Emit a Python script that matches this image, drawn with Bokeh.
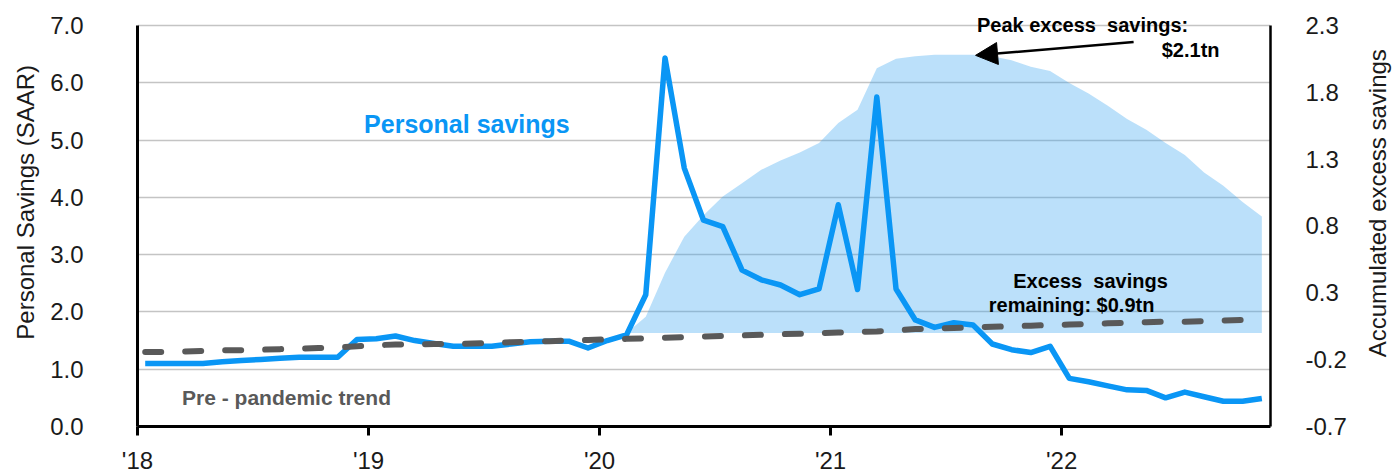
import math
from bokeh.plotting import figure
from bokeh.layouts import row
from bokeh.models import Range1d, LinearAxis, FixedTicker, Label, Arrow, NormalHead, PrintfTickFormatter
from bokeh.embed import file_html
from bokeh.resources import INLINE

# Monthly data, Jan 2018 (index 0) .. Nov 2022 (index 58)
month_index = list(range(59))
personal_savings = [
    1.10, 1.10, 1.10, 1.10, 1.13, 1.15, 1.17, 1.19, 1.21, 1.21, 1.21, 1.52,
    1.53, 1.58, 1.50, 1.45, 1.40, 1.40, 1.40, 1.44, 1.48, 1.49, 1.49, 1.37,
    1.50, 1.60, 2.30, 6.43, 4.51, 3.60, 3.49, 2.73, 2.56, 2.47, 2.30, 2.40,
    3.87, 2.39, 5.75, 2.40, 1.86, 1.73, 1.81, 1.77, 1.44, 1.34, 1.29, 1.40,
    0.84, 0.78, 0.71, 0.64, 0.63, 0.50, 0.60, 0.52, 0.44, 0.44, 0.49,
]
pre_pandemic_trend = [
    1.30, 1.30, 1.31, 1.32, 1.33, 1.33, 1.34, 1.35, 1.36, 1.37, 1.38, 1.40,
    1.42, 1.43, 1.43, 1.44, 1.44, 1.45, 1.46, 1.47, 1.48, 1.49, 1.50, 1.51,
    1.52, 1.53, 1.54, 1.55, 1.56, 1.57, 1.58, 1.59, 1.60, 1.61, 1.62, 1.63,
    1.64, 1.65, 1.66, 1.68, 1.70, 1.71, 1.72, 1.73, 1.74, 1.75, 1.76, 1.77,
    1.78, 1.79, 1.80, 1.81, 1.82, 1.83, 1.83, 1.84, 1.85, 1.86, 1.87,
]
# Accumulated excess savings (right axis), Feb 2020 (index 25) .. Nov 2022
excess_months = list(range(25, 59))
accumulated_excess = [
    0.00, 0.12, 0.45, 0.72, 0.88, 1.02, 1.12, 1.22, 1.29, 1.35, 1.42,
    1.57, 1.67, 1.98, 2.05, 2.07, 2.08, 2.08, 2.08, 2.07, 2.04, 1.99, 1.96,
    1.87, 1.79, 1.70, 1.60, 1.52, 1.42, 1.33, 1.20, 1.10, 0.98, 0.87,
]
year_ticks = [0, 12, 24, 36, 48]
year_labels = ["'18", "'19", "'20", "'21", "'22"]
left_ticks = [0, 1, 2, 3, 4, 5, 6, 7]
right_ticks = [-0.7, -0.2, 0.3, 0.8, 1.3, 1.8, 2.3]
left_title = "Personal Savings (SAAR)"
right_title = "Accumulated excess savings"

OFF = 0.4  # points sit slightly after the month start
xs = [m + OFF for m in month_index]
xe = [m + OFF for m in excess_months]

FONT = "Liberation Sans"
BLUE = "#0A96F5"
GREY = "#595959"
TXT = "#1a1a1a"
H = 476
WL, WR = 44, 46
WM = 1398 - WL - WR

# frame spans the full height above the x axis so top annotations are not clipped;
# the axes themselves are bounded to 0..7 / -0.7..2.3
Y_TOP = 7.435
R_TOP = -0.7 + Y_TOP * 3.0 / 7.0

p = figure(width=WM, height=H, output_backend="svg", toolbar_location=None,
           x_range=Range1d(0, 58.85), y_range=Range1d(0, Y_TOP))
p.extra_y_ranges = {"right": Range1d(-0.7, R_TOP)}
p.min_border = 0
p.min_border_left = 137 - WL
p.min_border_right = (WL + WM) - 1270
p.min_border_top = 0
p.min_border_bottom = 49
p.outline_line_color = None
p.background_fill_color = "white"
p.border_fill_color = "white"

# area of accumulated excess savings
p.varea(x=xe, y1=[0] * len(xe), y2=accumulated_excess, y_range_name="right",
        fill_color="#3DA6F1", fill_alpha=0.35)

# savings line, then trend dashes on top
p.line(xs, personal_savings, line_color=BLUE, line_width=5.5, line_join="round")
p.line(xs, pre_pandemic_trend, line_color=GREY, line_width=6, line_dash="16 24",
       line_cap="round")

# grid
p.xgrid.visible = False
p.ygrid.ticker = FixedTicker(ticks=left_ticks)
p.ygrid.grid_line_color = "#c4c4c4"
p.ygrid.grid_line_width = 1.6

# x axis
xa = p.xaxis[0]
xa.ticker = FixedTicker(ticks=year_ticks)
xa.major_label_overrides = {t: l for t, l in zip(year_ticks, year_labels)}
xa.axis_line_color = "black"
xa.axis_line_width = 3
xa.major_tick_line_color = "black"
xa.major_tick_line_width = 3
xa.major_tick_out = 9
xa.major_tick_in = 0
xa.minor_tick_line_color = None
xa.minor_tick_out = 0
xa.major_label_text_font = FONT
xa.major_label_text_font_size = "24px"
xa.major_label_text_color = TXT
xa.major_label_standoff = 11

# left axis
ya = p.yaxis[0]
ya.bounds = (0, 7)
ya.ticker = FixedTicker(ticks=left_ticks)
ya.formatter = PrintfTickFormatter(format="%.1f")
ya.axis_line_color = "black"
ya.axis_line_width = 3
ya.major_tick_line_color = None
ya.major_tick_out = 0
ya.major_tick_in = 0
ya.minor_tick_line_color = None
ya.minor_tick_out = 0
ya.major_label_text_font = FONT
ya.major_label_text_font_size = "24px"
ya.major_label_text_color = TXT
ya.major_label_standoff = 54

# right axis
ra = LinearAxis(y_range_name="right", ticker=FixedTicker(ticks=right_ticks),
                formatter=PrintfTickFormatter(format="%.1f"), bounds=(-0.7, 2.3))
ra.axis_line_color = "black"
ra.axis_line_width = 2.5
ra.major_tick_line_color = None
ra.major_tick_out = 0
ra.major_tick_in = 0
ra.minor_tick_line_color = None
ra.minor_tick_out = 0
ra.major_label_text_font = FONT
ra.major_label_text_font_size = "24px"
ra.major_label_text_color = TXT
ra.major_label_standoff = 35
p.add_layout(ra, "right")

# annotations (x in months, y in left-axis units, y = text baseline)
def lab(x, y, text, size, color="black"):
    p.add_layout(Label(x=x, y=y, text=text, text_font=FONT, text_font_size=size,
                       text_font_style="bold", text_color=color, text_align="center",
                       text_baseline="alphabetic"))

lab(17.11, 5.276, "Personal savings", "25px", BLUE)
lab(7.74, 0.505, "Pre - pandemic trend", "21px", GREY)
lab(49.09, 7.0, "Peak excess\u00a0 savings:", "20px")
lab(54.7, 6.565, "$2.1tn", "20px")
lab(49.5, 2.547, "Excess\u00a0 savings", "20px")
lab(48.52, 2.124, "remaining: $0.9tn", "20px")

p.add_layout(Arrow(end=NormalHead(size=22, fill_color="black", line_color="black"),
                   x_start=51.74, y_start=6.709, x_end=43.53, y_end=6.478,
                   line_color="black", line_width=2.5))

# side strips holding the rotated axis titles (reading bottom-to-top, as in the reference)
def title_strip(width, text, cx, cy_from_top):
    s = figure(width=width, height=H, output_backend="svg", toolbar_location=None,
               x_range=Range1d(0, width), y_range=Range1d(0, H))
    s.min_border = 0
    s.outline_line_color = None
    s.axis.visible = False
    s.grid.visible = False
    s.border_fill_color = "white"
    s.background_fill_color = "white"
    s.add_layout(Label(x=cx, y=H - cy_from_top, text=text, angle=math.pi / 2,
                       text_font=FONT, text_font_size="24px", text_color=TXT,
                       text_align="center", text_baseline="middle"))
    return s

left_strip = title_strip(WL, left_title, 24.5, 225.5)
right_strip = title_strip(WR, right_title, 1377 - (WL + WM), 226.5)

layout = row(left_strip, p, right_strip, spacing=0)
open("out.html", "w").write(file_html(layout, INLINE))
